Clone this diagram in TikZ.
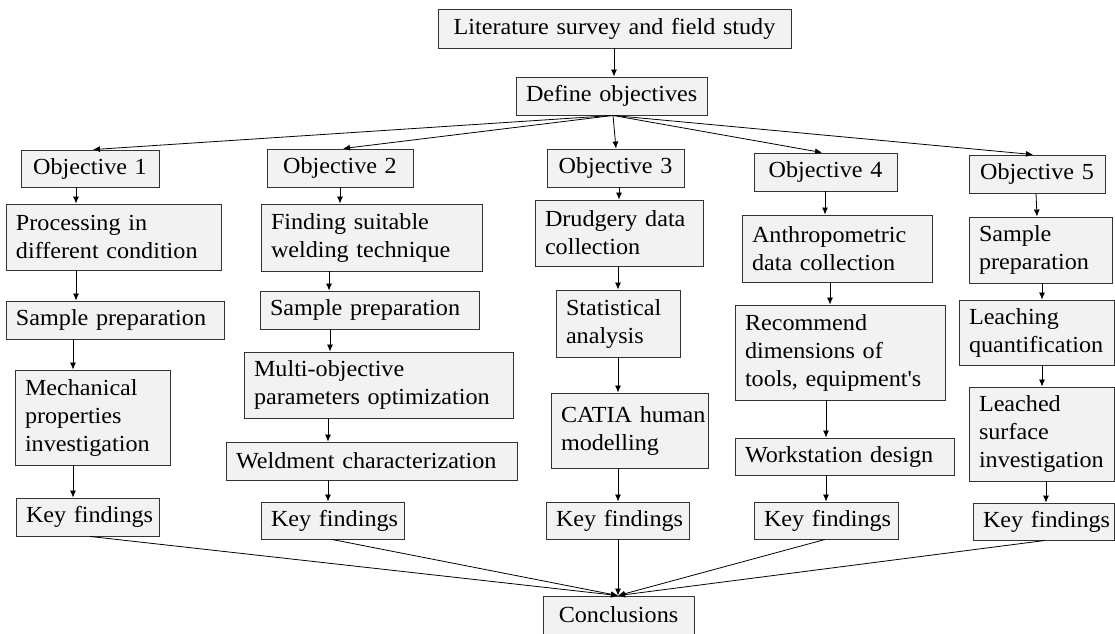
\documentclass[tikz,border=0pt]{standalone}
\usepackage{fontspec}
\setmainfont{Liberation Serif}[FakeStretch=1.05]
\usetikzlibrary{arrows.meta}
\definecolor{boxgray}{HTML}{F2F2F2}
\begin{document}
\begin{tikzpicture}[x=1pt,y=-1pt,
  box/.style={draw=black!80, line width=0.9pt, fill=boxgray, inner xsep=10pt, inner ysep=0pt,
    font=\fontsize{23}{28}\selectfont, anchor=center,
    execute at begin node={\hyphenpenalty=10000 \exhyphenpenalty=10000 \hbadness=10000 \hfuzz=50pt}},
  lbox/.style={box, align=left},
  cbox/.style={box, align=center},
  arr/.style={draw=black, line width=0.8pt, -{Latex[length=7pt,width=6pt]}}
]
\useasboundingbox (0,0) rectangle (1115,633);

% top
\node[cbox, minimum width=353pt, minimum height=39pt, text width=333pt] (lit) at (614.5,28.5) {Literature~survey~and~field~study};
\node[cbox, minimum width=191pt, minimum height=38pt, text width=171pt] (def) at (611.5,96) {Define~objectives};

% objectives
\node[cbox, minimum width=138pt, minimum height=37pt, text width=118pt] (o1) at (90,168.5) {Objective~1};
\node[cbox, minimum width=146pt, minimum height=38pt, text width=126pt] (o2) at (340,168) {Objective~2};
\node[cbox, minimum width=137pt, minimum height=38pt, text width=117pt] (o3) at (615.5,168) {Objective~3};
\node[cbox, minimum width=143pt, minimum height=38pt, text width=123pt] (o4) at (825.5,172) {Objective~4};
\node[cbox, minimum width=136pt, minimum height=38pt, text width=116pt] (o5) at (1037,174) {Objective~5};

% column 1
\node[lbox, minimum width=215pt, minimum height=66pt, text width=195pt] (proc) at (113.5,237) {Processing~in\\different~condition};
\node[lbox, minimum width=218pt, minimum height=38pt, text width=198pt] (samp1) at (115,320) {Sample~preparation};
\node[lbox, minimum width=155pt, minimum height=95pt, text width=135pt] (mech) at (92.5,417.5) {Mechanical\\properties\\investigation};
\node[cbox, minimum width=143pt, minimum height=38pt, text width=123pt] (key1) at (87.5,517) {Key~findings};

% column 2
\node[lbox, minimum width=221pt, minimum height=67pt, text width=201pt] (find) at (371.5,237.5) {Finding~suitable\\welding~technique};
\node[lbox, minimum width=219pt, minimum height=38pt, text width=199pt] (samp2) at (369.5,310) {Sample~preparation};
\node[lbox, minimum width=269pt, minimum height=66pt, text width=249pt] (multi) at (378.5,385) {Multi-objective\\parameters~optimization};
\node[lbox, minimum width=291pt, minimum height=38pt, text width=271pt] (weld) at (371.5,461) {Weldment~characterization};
\node[cbox, minimum width=143pt, minimum height=37pt, text width=123pt] (key2) at (332.5,520.5) {Key~findings};

% column 3
\node[lbox, minimum width=168pt, minimum height=66pt, text width=148pt] (drud) at (619,233) {Drudgery~data\\collection};
\node[lbox, minimum width=124pt, minimum height=67pt, text width=104pt] (stat) at (618,323.5) {Statistical\\analysis};
\node[lbox, minimum width=157pt, minimum height=75pt, text width=137pt] (catia) at (629.5,430.5) {CATIA~human\\modelling};
\node[cbox, minimum width=143pt, minimum height=37pt, text width=123pt] (key3) at (617.5,520.5) {Key~findings};

% column 4
\node[lbox, minimum width=190pt, minimum height=67pt, text width=170pt] (anth) at (837,248.5) {Anthropometric\\data~collection};
\node[lbox, minimum width=210pt, minimum height=95pt, text width=190pt] (recom) at (840,352.5) {Recommend\\dimensions~of\\tools,~equipment\textquotesingle s};
\node[lbox, minimum width=219pt, minimum height=37pt, text width=199pt] (work) at (844.5,456.5) {Workstation~design};
\node[cbox, minimum width=144pt, minimum height=37pt, text width=124pt] (key4) at (826,520.5) {Key~findings};

% column 5
\node[lbox, minimum width=143pt, minimum height=66pt, text width=123pt] (samp5) at (1040.5,250) {Sample\\preparation};
\node[lbox, minimum width=155pt, minimum height=65pt, text width=135pt] (leach) at (1036.5,332.5) {Leaching\\quantification};
\node[lbox, minimum width=145pt, minimum height=94pt, text width=125pt] (leached) at (1041.5,434) {Leached\\surface\\investigation};
\node[cbox, minimum width=141pt, minimum height=37pt, text width=121pt] (key5) at (1043.5,521.5) {Key~findings};

% conclusions
\node[cbox, minimum width=151pt, minimum height=38pt, text width=131pt] (concl) at (618.5,615) {Conclusions};

% top arrows
\draw[arr] (lit.south -| 614,0) -- (def.north -| 614,0);
\coordinate (fan) at (def.south -| 613,0);
\draw[arr] (fan) -- (o1.north -| 93,0);
\draw[arr] (fan) -- (o2.north -| 343,0);
\draw[arr] (fan) -- (o3.north -| 616,0);
\draw[arr] (fan) -- (o4.north -| 822,0);
\draw[arr] (fan) -- (o5.north -| 1033,0);

% column 1
\draw[arr] (o1.south -| 76,0) -- (proc.north -| 76,0);
\draw[arr] (proc.south -| 76,0) -- (samp1.north -| 76,0);
\draw[arr] (samp1.south -| 73,0) -- (mech.north -| 73,0);
\draw[arr] (mech.south -| 73,0) -- (key1.north -| 73,0);

% column 2
\draw[arr] (o2.south -| 340,0) -- (find.north -| 340,0);
\draw[arr] (find.south -| 329,0) -- (samp2.north -| 329,0);
\draw[arr] (samp2.south -| 330,0) -- (multi.north -| 330,0);
\draw[arr] (multi.south -| 328,0) -- (weld.north -| 328,0);
\draw[arr] (weld.south -| 328,0) -- (key2.north -| 328,0);

% column 3
\draw[arr] (o3.south -| 619,0) -- (drud.north -| 619,0);
\draw[arr] (drud.south -| 618,0) -- (stat.north -| 618,0);
\draw[arr] (stat.south -| 618,0) -- (catia.north -| 618,0);
\draw[arr] (catia.south -| 618,0) -- (key3.north -| 618,0);

% column 4
\draw[arr] (o4.south -| 825,0) -- (anth.north -| 825,0);
\draw[arr] (anth.south -| 830,0) -- (recom.north -| 830,0);
\draw[arr] (recom.south -| 826,0) -- (work.north -| 826,0);
\draw[arr] (work.south -| 826,0) -- (key4.north -| 826,0);

% column 5
\draw[arr] (o5.south -| 1036,0) -- (samp5.north -| 1037,0);
\draw[arr] (samp5.south -| 1042,0) -- (leach.north -| 1042,0);
\draw[arr] (leach.south -| 1042,0) -- (leached.north -| 1042,0);
\draw[arr] (leached.south -| 1046,0) -- (key5.north -| 1046,0);

% converge
\coordinate (cin) at (concl.north -| 618,0);
\draw[arr] (key1.south -| 90,0) -- (cin);
\draw[arr] (key2.south -| 332,0) -- (cin);
\draw[arr] (key3.south -| 618,0) -- (cin);
\draw[arr] (key4.south -| 825,0) -- (cin);
\draw[arr] (key5.south -| 1045,0) -- (cin);
\end{tikzpicture}
\end{document}
